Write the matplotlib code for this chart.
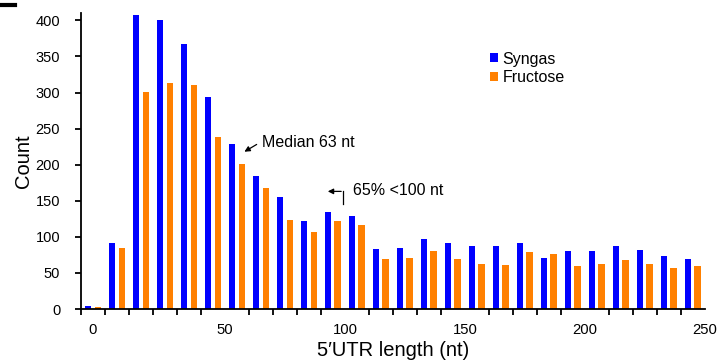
import numpy as np
import matplotlib
matplotlib.use('Agg')
import matplotlib.pyplot as plt
from matplotlib.lines import Line2D

plt.rcParams['font.family'] = ['Liberation Sans', 'DejaVu Sans']

# ── Data: 5'UTR length histogram, 10 nt bins ──
bin_centers = np.arange(-5, 250, 10)
syngas   = [4, 91, 407, 401, 367, 294, 228, 185, 155, 122, 134, 129, 83,
            84, 97, 92, 87, 87, 91, 71, 80, 80, 88, 82, 74, 70]
fructose = [3, 85, 301, 313, 311, 239, 201, 168, 124, 107, 122, 117, 69,
            71, 81, 69, 62, 61, 79, 76, 60, 62, 68, 63, 57, 59]
tick_pos    = [-5, 50, 100, 150, 200, 250]
tick_labels = ['0', '50', '100', '150', '200', '250']

BLUE = '#0000FF'
ORANGE = '#FF8000'

fig = plt.figure(figsize=(7.17, 3.64), dpi=100)
ax = fig.add_axes([0.113, 0.151, 0.870, 0.813])

w = 2.7
ax.bar(bin_centers - 2.0, syngas, width=w, color=BLUE, label='Syngas')
ax.bar(bin_centers + 2.0, fructose, width=w, color=ORANGE, label='Fructose')

ax.set_xlim(-10, 250)
ax.set_ylim(0, 410)

# axes styling
for s in ['top', 'right']:
    ax.spines[s].set_visible(False)
for s in ['left', 'bottom']:
    ax.spines[s].set_linewidth(1.3)
ax.set_yticks(range(0, 401, 50))
ax.tick_params(axis='y', direction='out', length=4, width=1.3, pad=11, labelsize=10.5)
ax.set_xticks(tick_pos)
ax.set_xticklabels(tick_labels)
ax.set_xticks(np.arange(-10, 251, 10), minor=True)
ax.tick_params(axis='x', which='major', length=0, pad=10, labelsize=10.7)
ax.tick_params(axis='x', which='minor', direction='out', length=4, width=1.3)

ax.set_ylabel('Count', fontsize=14.5, labelpad=2)
ax.set_xlabel('5\u2032UTR length (nt)', fontsize=14.5, labelpad=3)

# ── Annotations ──
ax.annotate('', xy=(57.1, 216), xytext=(64.2, 230),
            arrowprops=dict(arrowstyle='-|>', color='black', lw=0.9, mutation_scale=8))
ax.text(65.4, 231, 'Median 63 nt', fontsize=11.5, va='center', ha='left')

ax.plot([99.2, 99.2], [145, 163], color='black', lw=0.9)
ax.annotate('', xy=(91.7, 163), xytext=(99.6, 163),
            arrowprops=dict(arrowstyle='-|>', color='black', lw=0.9, mutation_scale=8))
ax.text(103.3, 164, '65% <100 nt', fontsize=11.5, va='center', ha='left')

# ── Legend ──
ax.legend(loc='upper left', bbox_to_anchor=(0.655, 0.87), frameon=False,
          fontsize=11.5, handlelength=0.5, handleheight=0.5,
          handletextpad=0.3, labelspacing=0.2, borderpad=0, borderaxespad=0)

# panel corner mark
fig.add_artist(Line2D([0, 15 / 717], [1 - 5 / 364, 1 - 5 / 364], color='black', lw=3,
                      transform=fig.transFigure))

fig.savefig('out.png', dpi=100)
